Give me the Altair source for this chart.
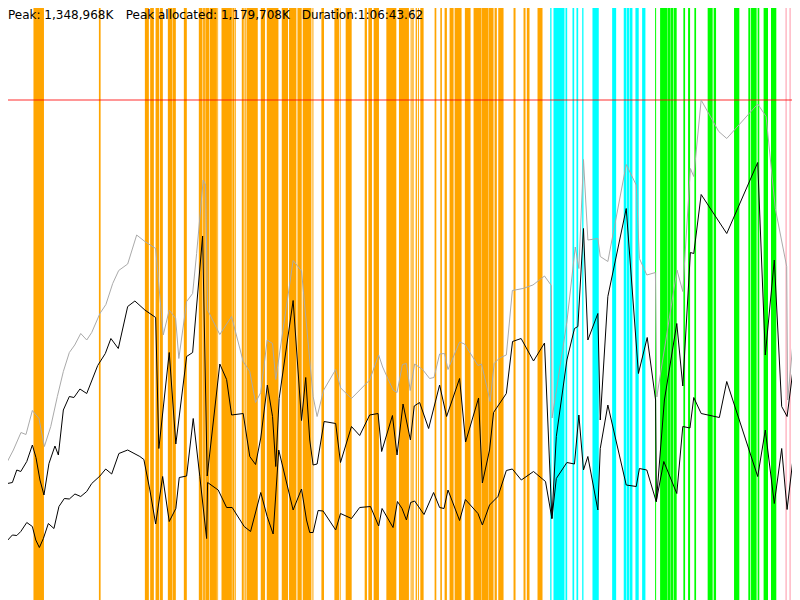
import altair as alt
import pandas as pd

# ---- summary figures -------------------------------------------------
DURATION_S = 4003.62          # 1:06:43.62
PEAK_K = 1348968
PEAK_ALLOC_K = 1179708

# ---- memory series: (time in s, % of peak memory) ---------------------
total_pts = [
    (0, 12.0), (37, 27.7), (67, 30.0), (105, 33.5), (130, 33.1), (162, 37.9), (195, 36.3),
    (222, 30.7), (254, 34.7), (287, 40.7), (317, 45.7), (347, 49.5), (374, 51.0), (404, 53.3),
    (434, 52.0), (459, 53.5), (500, 57.3), (530, 59.1), (564, 63.3), (594, 65.9), (639, 67.2),
    (684, 73.0), (725, 71.7), (779, 70.3), (817, 53.0), (847, 58.0), (879, 56.3), (895, 48.3),
    (934, 59.7), (964, 61.3), (984, 69.3), (1017, 84.0), (1029, 83.0), (1039, 58.0), (1100, 53.1),
    (1159, 56.7), (1217, 47.7), (1250, 45.7), (1279, 39.5), (1305, 41.5), (1337, 52.0), (1364, 51.3),
    (1380, 44.1), (1467, 67.9), (1509, 65.8), (1567, 40.7), (1587, 36.7), (1620, 42.0), (1680, 46.1),
    (1705, 42.4), (1759, 40.3), (1850, 44.0), (1895, 49.0), (1915, 46.6), (1967, 42.0), (1987, 41.5),
    (2014, 47.1), (2034, 47.3), (2053, 41.9), (2075, 47.2), (2115, 46.1), (2150, 44.3), (2172, 44.5),
    (2200, 49.2), (2225, 49.3), (2242, 46.1), (2300, 51.6), (2325, 51.2), (2392, 46.9), (2410, 47.2),
    (2453, 39.7), (2473, 47.3), (2500, 48.4), (2534, 49.0), (2564, 61.9), (2617, 62.3), (2667, 63.0),
    (2725, 64.8), (2759, 62.9), (2763, 36.4), (2837, 55.6), (2879, 70.6), (2897, 66.3), (2920, 88.1),
    (2942, 72.0), (2992, 72.3), (3004, 68.7), (3042, 67.7), (3134, 87.1), (3184, 83.0), (3200, 68.3),
    (3237, 65.0), (3280, 65.5), (3287, 40.6), (3388, 66.0), (3417, 61.7), (3455, 86.3), (3472, 84.7),
    (3509, 100.0), (3597, 93.7), (3637, 92.3), (3792, 99.2), (3834, 96.7), (3880, 78.3), (3937, 66.7),
    (3942, 40.0), (3997, 63.7),
]

allocated_pts = [
    (0, 12.3), (37, 23.3), (62, 23.5), (84, 26.0), (104, 25.7), (134, 27.7), (162, 31.0), (180, 28.5),
    (200, 24.0), (220, 21.0), (245, 27.3), (275, 30.8), (292, 29.0), (317, 38.0), (347, 40.7),
    (370, 40.5), (400, 42.2), (434, 41.3), (489, 46.9), (527, 49.3), (555, 52.3), (592, 50.3),
    (639, 58.7), (675, 59.8), (725, 58.0), (779, 56.5), (795, 30.3), (847, 49.5), (880, 31.2),
    (934, 48.7), (964, 49.5), (1014, 72.8), (1037, 24.8), (1100, 47.2), (1134, 44.1), (1159, 37.0),
    (1217, 37.3), (1250, 28.7), (1279, 27.1), (1305, 32.4), (1338, 43.0), (1364, 36.7), (1380, 26.7),
    (1397, 40.3), (1467, 59.9), (1509, 35.9), (1530, 44.5), (1550, 32.0), (1567, 27.0), (1587, 27.2),
    (1622, 35.7), (1680, 35.3), (1704, 27.5), (1759, 34.7), (1800, 32.9), (1850, 37.0), (1892, 37.3),
    (1910, 29.7), (1964, 36.9), (1987, 29.0), (2017, 39.2), (2054, 32.0), (2073, 38.8), (2100, 39.5),
    (2145, 34.3), (2200, 43.0), (2235, 36.7), (2300, 44.3), (2330, 31.6), (2395, 40.4), (2414, 23.4),
    (2450, 30.0), (2470, 37.5), (2534, 41.3), (2565, 51.7), (2608, 52.3), (2670, 47.8), (2725, 51.4),
    (2762, 16.3), (2784, 32.7), (2837, 48.0), (2875, 54.3), (2892, 54.7), (2920, 74.3), (2942, 52.0),
    (2992, 57.3), (3004, 36.0), (3042, 60.7), (3134, 78.3), (3195, 45.3), (3239, 52.5), (3281, 40.0),
    (3285, 19.7), (3325, 40.0), (3387, 55.3), (3417, 42.8), (3455, 69.5), (3472, 69.3), (3509, 81.1),
    (3637, 73.3), (3792, 87.5), (3830, 49.0), (3875, 68.0), (3912, 38.7), (3939, 36.7), (3997, 55.0),
]

live_pts = [
    (0, 8.7), (20, 11.8), (37, 11.9), (62, 13.0), (84, 12.9), (104, 13.7), (134, 15.5), (162, 14.7),
    (179, 12.0), (197, 10.5), (217, 12.3), (242, 15.3), (270, 14.3), (295, 18.7), (322, 20.3),
    (347, 20.2), (375, 21.2), (404, 20.7), (434, 21.7), (459, 23.3), (500, 24.8), (529, 26.2),
    (559, 25.2), (595, 29.3), (639, 30.0), (700, 28.7), (720, 28.1), (750, 22.0), (779, 15.2),
    (814, 24.7), (847, 15.7), (880, 18.3), (897, 24.5), (934, 24.8), (967, 36.3), (1000, 24.7),
    (1034, 12.3), (1039, 23.5), (1092, 22.0), (1134, 18.5), (1162, 18.5), (1222, 14.7), (1254, 13.7),
    (1305, 21.5), (1337, 16.7), (1367, 13.2), (1395, 30.0), (1467, 18.0), (1509, 22.2), (1534, 16.0),
    (1550, 13.5), (1567, 13.5), (1592, 17.9), (1617, 17.8), (1680, 14.0), (1704, 17.3), (1759, 16.3),
    (1800, 18.5), (1854, 18.7), (1895, 14.8), (1912, 18.3), (1967, 14.5), (1989, 19.7), (2012, 18.3),
    (2034, 16.0), (2055, 19.5), (2075, 19.8), (2122, 17.1), (2170, 21.5), (2200, 18.5), (2222, 18.3),
    (2242, 22.0), (2300, 15.9), (2329, 20.1), (2392, 17.3), (2414, 15.0), (2450, 19.0), (2492, 20.7),
    (2534, 25.9), (2564, 26.2), (2609, 24.0), (2670, 25.7), (2730, 23.7), (2762, 16.3), (2784, 24.3),
    (2837, 27.5), (2875, 27.2), (2897, 37.0), (2920, 26.0), (2942, 28.7), (2992, 18.0), (3004, 30.3),
    (3042, 39.0), (3134, 23.0), (3184, 22.7), (3200, 26.3), (3237, 26.0), (3284, 19.7), (3322, 27.7),
    (3387, 21.3), (3417, 34.7), (3453, 34.4), (3472, 40.5), (3509, 37.3), (3600, 36.5), (3637, 43.7),
    (3792, 24.7), (3830, 34.0), (3875, 19.3), (3912, 30.3), (3939, 18.1), (3997, 38.0),
]

# ---- activity intervals (start s, end s) per phase ---------------------
phase_a = [
    (0, 8.5), (30, 36.5), (167.5, 220), (495, 503.5), (725, 745), (751.5, 770), (778.5, 796.5),
    (800, 815), (840, 861), (863, 880), (920, 935), (995, 1013.5), (1016.5, 1025.5), (1027.5, 1047.5),
    (1050, 1085.5), (1087.5, 1091.5), (1108.5, 1160.5), (1162.5, 1172.5), (1174.5, 1180), (1210, 1220),
    (1223.5, 1230), (1233.5, 1290), (1305, 1326.5), (1335, 1393.5), (1410, 1441.5), (1446.5, 1483.5),
    (1488.5, 1510), (1515, 1558.5), (1563.5, 1568.5), (1608.5, 1621.5), (1673.5, 1696.5), (1700, 1705),
    (1730, 1760), (1825, 1836.5), (1843.5, 1861.5), (1870, 1896.5), (1933.5, 1983.5), (1996.5, 2046.5),
    (2055, 2060), (2063.5, 2070), (2080, 2086.5), (2091.5, 2096.5), (2103.5, 2120), (2175, 2183.5),
    (2203.5, 2211.5), (2225, 2236.5), (2250, 2270), (2275, 2310), (2326.5, 2355), (2370, 2410),
    (2411.5, 2445), (2446.5, 2470), (2475, 2486.5), (2493.5, 2520), (2570, 2580), (2620, 2630),
    (2636.5, 2650), (2690, 2715),
]
phase_b = [
    (2753.5, 2760), (2770, 2825), (2830, 2838.5), (2865, 2873.5), (2885, 2893.5), (2913.5, 2920),
    (2965, 2996.5), (3063.5, 3083.5), (3121.5, 3135), (3137.5, 3150), (3152.5, 3165), (3180, 3196.5),
    (3213.5, 3230),
]
phase_c = [
    (3278.5, 3283.5), (3303.5, 3338.5), (3340, 3353.5), (3355, 3370), (3372.5, 3386.5), (3420, 3428.5),
    (3443.5, 3453.5), (3475, 3483.5), (3541.5, 3566.5), (3571.5, 3583.5), (3673.5, 3700), (3745, 3755),
    (3758.5, 3786.5), (3791.5, 3800), (3821.5, 3843.5), (3858.5, 3885),
]
phase_d = [(3930, 3938.5), (3950, 3958.5), (3966.5, 3983.5), (3991.5, 4003)]

phase_names = ["A", "B", "C", "D"]
phase_colors = ["#ffa500", "#00ffff", "#00ff00", "#ffc0cb"]

# ---- build tables -----------------------------------------------------
rows = []
for name, ivs in zip(phase_names, [phase_a, phase_b, phase_c, phase_d]):
    for s, e in ivs:
        rows.append({"start": s, "end": e, "phase": name})
stripes = pd.DataFrame(rows)

def series(pts):
    return pd.DataFrame(pts, columns=["t", "pct"])

# The page keeps an 8px margin; the view frames the part of the timeline
# and of the memory range that falls inside it.
W, H = 784, 592
x_view = [DURATION_S * 8 / 800, DURATION_S * 792 / 800]
y_view = [0, 120 * 592 / 600]

xs = alt.Scale(domain=x_view, nice=False, zero=False)
ys = alt.Scale(domain=y_view, nice=False, zero=False)

stripe_layer = alt.Chart(stripes).mark_rect(clip=True).encode(
    x=alt.X("start:Q", scale=xs, axis=None),
    x2="end:Q",
    color=alt.Color("phase:N", scale=alt.Scale(domain=phase_names, range=phase_colors), legend=None),
)

peak_rule = alt.Chart(pd.DataFrame({"pct": [100.0]})).mark_rule(
    color="#ff0000", opacity=0.55, strokeWidth=1.5
).encode(y=alt.Y("pct:Q", scale=ys, axis=None))

def line(pts, color):
    return alt.Chart(series(pts)).mark_line(color=color, strokeWidth=1, clip=True).encode(
        x=alt.X("t:Q", scale=xs, axis=None),
        y=alt.Y("pct:Q", scale=ys, axis=None),
    )

total_line = line(total_pts, "#aaaaaa")
alloc_line = line(allocated_pts, "#000000")
live_line = line(live_pts, "#000000")

def label(txt, xpos):
    return alt.Chart(pd.DataFrame({"label": [txt]})).mark_text(
        align="left", baseline="alphabetic", font="DejaVu Sans", fontSize=12, color="#000000"
    ).encode(text="label:N", x=alt.value(xpos), y=alt.value(10.5))

texts = [
    label(f"Peak: {PEAK_K:,}K", 0),
    label(f"Peak allocated: {PEAK_ALLOC_K:,}K", 117.7),
    label("Duration:1:06:43.62", 293.7),
]

chart = alt.layer(stripe_layer, peak_rule, total_line, alloc_line, live_line, *texts).properties(
    width=W, height=H,
    padding=0,
    autosize=alt.AutoSizeParams(type="none"),
    background="white",
).configure_view(stroke=None)

chart.save("out.html", embed_options={"renderer": "svg", "actions": False})
